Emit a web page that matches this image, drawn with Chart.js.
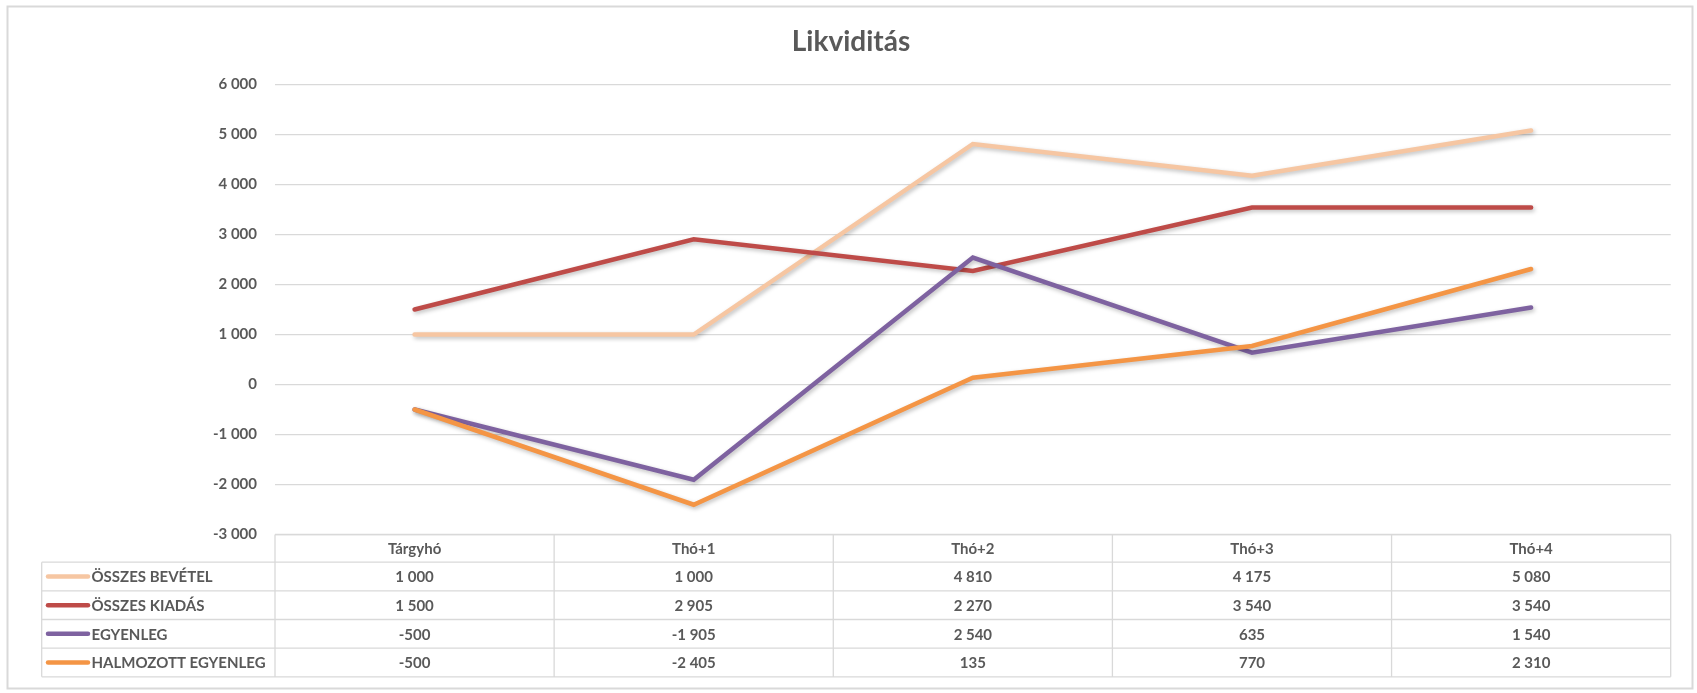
<!DOCTYPE html>
<html>
<head>
<meta charset="utf-8">
<title>Likviditás</title>
<script src="https://cdn.jsdelivr.net/npm/chart.js@4"></script>
<style>
  html, body { margin: 0; padding: 0; background: #fff; }
  #wrap { width: 1697px; height: 693px; position: relative; }
</style>
</head>
<body>
<div id="wrap"><canvas id="line-chart"></canvas></div>
<script>
// data
var categories = ["Tárgyhó", "Thó+1", "Thó+2", "Thó+3", "Thó+4"];
var seriesNames = ["ÖSSZES BEVÉTEL", "ÖSSZES KIADÁS", "EGYENLEG", "HALMOZOTT EGYENLEG"];
var osszesBevetel = [1000, 1000, 4810, 4175, 5080];
var osszesKiadas = [1500, 2905, 2270, 3540, 3540];
var egyenleg = [-500, -1905, 2540, 635, 1540];
var halmozottEgyenleg = [-500, -2405, 135, 770, 2310];
var yMin = -3000, yMax = 6000, yStep = 1000;

var seriesValues = [osszesBevetel, osszesKiadas, egyenleg, halmozottEgyenleg];
var seriesColors = ["#F6C6A2", "#BE4B48", "#7E62A0", "#F49545"];
var textColor = "#595959";
var lineColor = "#D9D9D9";

function fmt(v) {
    var s = Math.abs(v).toString().replace(/\B(?=(\d{3})+(?!\d))/g, " ");
    return (v < 0 ? "-" : "") + s;
}

Chart.defaults.font.family = "Lato";

var shadowPlugin = {
    id: "lineShadow",
    beforeDatasetDraw: function (chart) {
        var c = chart.ctx;
        c.save();
        c.shadowColor = "rgba(0,0,0,0.25)";
        c.shadowBlur = 4;
        c.shadowOffsetX = 1.5;
        c.shadowOffsetY = 2;
    },
    afterDatasetDraw: function (chart) {
        chart.ctx.restore();
    }
};

var tablePlugin = {
    id: "dataTable",
    afterDraw: function (chart) {
        var ctx = chart.ctx, area = chart.chartArea, xs = chart.scales.x;
        var colW = area.width / categories.length;
        var top = area.bottom;
        var headBottom = top + 27.7;
        var rowH = 28.65;
        var legendLeft = 41.7;
        var tableBottom = headBottom + rowH * seriesNames.length;
        var i, j, y;

        ctx.save();
        // title
        ctx.fillStyle = textColor;
        ctx.font = "bold 28px Lato";
        ctx.textAlign = "center";
        ctx.textBaseline = "alphabetic";
        ctx.fillText("Likviditás", 851, 51);

        // outer frame
        ctx.strokeStyle = lineColor;
        ctx.lineWidth = 2;
        ctx.strokeRect(7.5, 6.5, 1685, 682);

        // table lines
        ctx.lineWidth = 1.3;
        ctx.beginPath();
        ctx.moveTo(area.left, top);
        ctx.lineTo(area.right, top);
        for (i = 0; i <= seriesNames.length; i++) {
            y = headBottom + rowH * i;
            ctx.moveTo(legendLeft, y);
            ctx.lineTo(area.right, y);
        }
        for (j = 0; j <= categories.length; j++) {
            var x = area.left + colW * j;
            ctx.moveTo(x, top);
            ctx.lineTo(x, tableBottom);
        }
        ctx.moveTo(legendLeft, headBottom);
        ctx.lineTo(legendLeft, tableBottom);
        ctx.stroke();

        // header
        ctx.font = "bold 15px Lato";
        ctx.textBaseline = "middle";
        ctx.textAlign = "center";
        ctx.fillStyle = textColor;
        for (j = 0; j < categories.length; j++) {
            ctx.fillText(categories[j], xs.getPixelForValue(j), (top + headBottom) / 2 + 1);
        }
        // rows
        for (i = 0; i < seriesNames.length; i++) {
            y = headBottom + rowH * i + rowH / 2 + 1;
            ctx.textAlign = "center";
            for (j = 0; j < categories.length; j++) {
                ctx.fillText(fmt(seriesValues[i][j]), xs.getPixelForValue(j), y);
            }
            ctx.strokeStyle = seriesColors[i];
            ctx.lineWidth = 4.5;
            ctx.lineCap = "round";
            ctx.beginPath();
            ctx.moveTo(48, y - 1);
            ctx.lineTo(88, y - 1);
            ctx.stroke();
            ctx.textAlign = "left";
            ctx.fillText(seriesNames[i], 91.5, y);
        }
        ctx.restore();
    }
};

var ctx = document.getElementById("line-chart");
var lineChart = new Chart(ctx, {
    type: "line",
    data: {
        labels: categories,
        datasets: seriesNames.map(function (name, i) {
            return {
                label: name,
                data: seriesValues[i],
                borderColor: seriesColors[i],
                backgroundColor: seriesColors[i],
                borderWidth: 4.5,
                borderCapStyle: "round",
                pointRadius: 0,
                tension: 0,
                order: seriesNames.length - i
            };
        })
    },
    options: {
        responsive: true,
        maintainAspectRatio: false,
        animation: false,
        layout: {
            padding: { left: 0, top: 84.5, right: 26.3, bottom: 158.5 }
        },
        plugins: {
            legend: { display: false },
            title: { display: false },
            tooltip: { enabled: false }
        },
        scales: {
            x: {
                display: false,
                offset: true
            },
            y: {
                min: yMin,
                max: yMax,
                afterFit: function (scale) { scale.width = 275; },
                border: { display: false },
                grid: { color: lineColor, lineWidth: 1.3, drawTicks: false },
                ticks: {
                    stepSize: yStep,
                    padding: 18,
                    color: textColor,
                    font: { size: 15, weight: "bold" },
                    callback: function (v) { return fmt(v); }
                }
            }
        }
    },
    plugins: [shadowPlugin, tablePlugin]
});
</script>
</body>
</html>
